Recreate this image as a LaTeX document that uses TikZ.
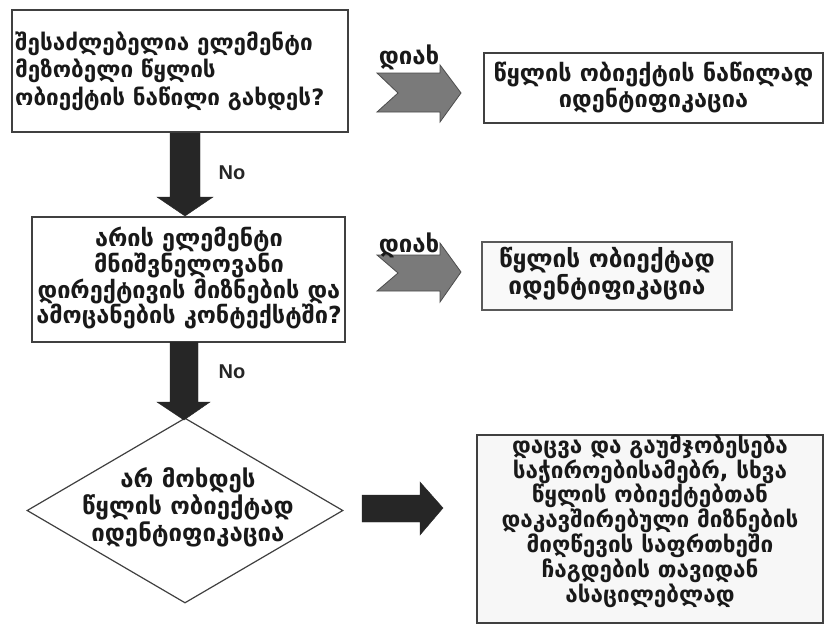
\documentclass[tikz,border=0pt]{standalone}
\usepackage{fontspec}
\setmainfont{DejaVu Sans}
\newfontfamily\nofont{Liberation Sans}
\usetikzlibrary{shapes.geometric}
\begin{document}
\begin{tikzpicture}[x=1pt,y=-1pt,
  box/.style={draw=black!75, line width=1.6pt, fill=white, inner sep=0pt},
  txt/.style={font=\bfseries\fontsize{24}{27}\selectfont, align=center, inner sep=0pt, text=black!90},
  yesarrow/.style={fill=black!52, draw=black!70, line width=0.8pt},
  blackarrow/.style={fill=black!85, draw=black!85},
  nolabel/.style={font=\nofont\bfseries\fontsize{20}{22}\selectfont, text=black!85, inner sep=0pt},
]
\fill[white] (0,0) rectangle (826,625);
\useasboundingbox (0,0) rectangle (826,625);

% boxes
\node[box, minimum width=336pt, minimum height=122pt] (q1) at (180,71) {};
\node[txt, font=\bfseries\fontsize{22.5}{27.5}\selectfont, align=left, anchor=west] (q1t) at (15,71)
  {შესაძლებელია ელემენტი\\მეზობელი წყლის\\ობიექტის ნაწილი გახდეს?};

\node[box, minimum width=339pt, minimum height=70pt] (r1) at (653.5,88) {};
\node[txt, font=\bfseries\fontsize{23.5}{26}\selectfont] (r1t) at (653.5,87)
  {წყლის ობიექტის ნაწილად\\იდენტიფიკაცია};

\node[box, minimum width=313pt, minimum height=125pt] (q2) at (188.5,279.5) {};
\node[txt, font=\bfseries\fontsize{23.5}{24.5}\selectfont] (q2t) at (189,278)
  {არის ელემენტი\\მნიშვნელოვანი\\დირექტივის მიზნების და\\ამოცანების კონტექსტში?};

\node[box, draw=black!65, fill=gray!5, minimum width=250pt, minimum height=68pt] (r2) at (607,276) {};
\node[txt, font=\bfseries\fontsize{24.5}{27}\selectfont] (r2t) at (607,274)
  {წყლის ობიექტად\\იდენტიფიკაცია};

\node[draw=black!75, line width=1.2pt, diamond, minimum width=316pt, minimum height=185pt, inner sep=0pt] (d) at (185,510.5) {};
\node[txt] (dt) at (188,507)
  {არ მოხდეს\\წყლის ობიექტად\\იდენტიფიკაცია};

\node[box, fill=gray!6, minimum width=346pt, minimum height=188pt] (r3) at (650,529) {};
\node[txt, font=\bfseries\fontsize{22.5}{23.6}\selectfont] (r3t) at (650,521)
  {დაცვა და გაუმჯობესება\\საჭიროებისამებრ, სხვა\\წყლის ობიექტებთან\\დაკავშირებული მიზნების\\მიღწევის საფრთხეში\\ჩაგდების თავიდან\\ასაცილებლად};

% yes arrows
\draw[yesarrow] (377,73) -- (440,73) -- (440,65) -- (461,93) -- (440,122) -- (440,112) -- (377,112) -- (398,93) -- cycle;
\node[txt] (y1) at (409,57) {დიახ};
\draw[yesarrow] (377,255) -- (440,255) -- (440,243) -- (461,272) -- (440,302) -- (440,291) -- (377,291) -- (398,273) -- cycle;
\node[txt] (y2) at (409,245) {დიახ};

% black arrows
\draw[blackarrow] (170,133) -- (200,133) -- (200,197) -- (213,197) -- (185,216) -- (157,197) -- (170,197) -- cycle;
\node[nolabel] (n1) at (232,173) {No};
\draw[blackarrow] (170,342) -- (198,342) -- (198,402) -- (210,402) -- (184,420) -- (157,402) -- (170,402) -- cycle;
\node[nolabel] (n2) at (232,372) {No};
\draw[blackarrow] (362,495) -- (420,495) -- (420,482) -- (443,508) -- (420,535) -- (420,522) -- (362,522) -- cycle;
\end{tikzpicture}
\end{document}
